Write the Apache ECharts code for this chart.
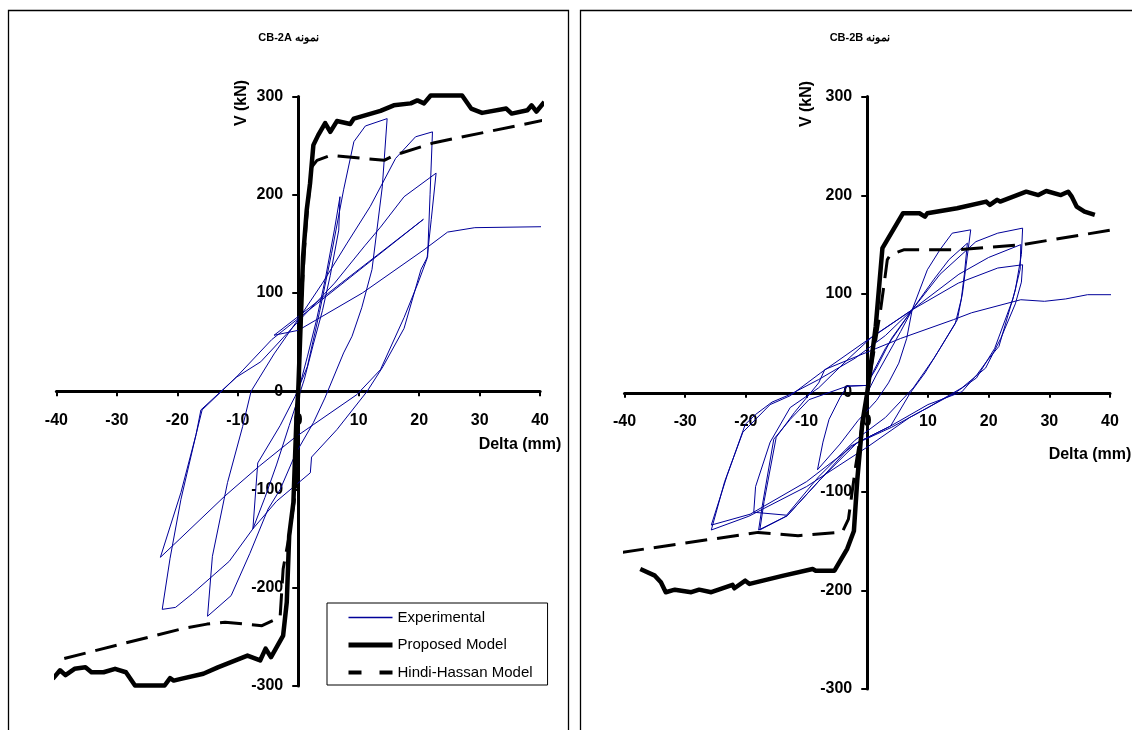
<!DOCTYPE html>
<html><head><meta charset="utf-8">
<script src="https://cdn.jsdelivr.net/npm/echarts@6/dist/echarts.min.js"></script>
<style>html,body{margin:0;padding:0;background:#fff}#c{width:1132px;height:730px}</style>
</head><body><div id="c"></div>
<script>
// ---------- data ----------
const panelTitles = ['CB-2A نمونه', 'CB-2B نمونه'];
const xAxisName = 'Delta (mm)';
const yAxisName = 'V (kN)';
const seriesNames = ['Experimental', 'Proposed Model', 'Hindi-Hassan Model'];
const xMin = -40, xMax = 40, xStep = 10;
const yMin = -300, yMax = 300, yStep = 100;

// Panel A (CB-2A)
const expA = [
 [0,0],[1.5,35],[3,72],[4.5,115],[6,165],[6.9,198],[6.7,164],[5.3,118],[4,82],[2.5,48],[1,12],[-1.5,-35],[-3.6,-75],[-5.5,-108],[-7.5,-140],[-6.7,-73],[-3,-35],[-0.5,-5],
 [1.5,25],[3.5,80],[5.5,140],[7.5,205],[9.2,254],[11.1,270],[14.7,277.5],[13.9,208],[12.2,124],[10.5,85],[8.9,56],[7.5,39],[4.4,-7],[2.5,-32],[-0.4,-63],[-3,-100],[-5,-120],[-8,-165],[-11.1,-208],[-15,-229],[-14.2,-168],[-11.7,-93],[-9.2,-36],[-7.8,0],
 [-4,38],[0.3,76],[4,110],[8,150],[11.9,188],[16.1,237],[19.4,259],[22.2,264],[21.8,200],[21.4,137],[20.3,124],[17.5,64],[14,25],[11.4,0],[6.4,-39],[2.2,-67],[2,-83],[-3.6,-112],[-7.5,-140],[-11.4,-173],[-17.5,-206],[-20.3,-220],[-22.5,-222],[-21.2,-170],[-19.4,-110],[-16.9,-44],[-15.9,-19],
 [-10.3,14],[-6.2,30],[0.3,73],[6,110],[11,148],[13.6,167],[17.5,198],[22.8,222],[22,175],[21.3,135],[19.8,110],[17.5,75],[13.6,22],[9.7,-3.4],[2.5,-34],[-0.55,-47],[-6.4,-76],[-12.2,-107],[-19.7,-151],[-22.8,-169],[-19.4,-103],[-16.9,-44],[-16.1,-19],
 [-10.3,14],[-4.4,52.5],[20.7,175],[-4,57],[0,62],[10.6,100],[20.8,144],[24.7,162],[29.2,166.5],[40.7,167.5]
];
const propA = [
 [-40.6,-292.7],[-39.4,-284],[-38.5,-289],[-37,-282.5],[-35.2,-281],[-34.2,-286],[-32.2,-286],[-30.3,-282.5],[-28.5,-286],[-27,-299.5],[-22.1,-299.5],[-21.2,-292],[-20.6,-294.5],[-19.4,-292.7],[-15.7,-287.6],[-13.3,-281],[-8.4,-269],[-6.3,-274],[-5.4,-262],[-4.5,-270.7],[-2.5,-248.7],[-1.9,-214.8],[-1.5,-147],[-0.8,-113],[-0.3,-28],
 [0,0],[0.4,69.4],[0.8,137],[1.4,184.5],[1.95,211.5],[2.5,250.5],[3.3,260.7],[4.45,273],[5.3,264],[6.4,275],[8.6,272],[9.2,277.5],[13.6,285.3],[15.8,291],[18.6,293],[19.7,296],[20.8,293],[21.9,301],[27.1,301],[28.6,287.7],[30.4,283.3],[34.4,287.7],[35.3,282.6],[37.9,286],[38.6,291],[39.4,284.7],[40.7,294.4]
];
const hhA = [
 [-38.7,-272],[-19.4,-242],[-15.1,-237],[-12.1,-235],[-6,-238.6],[-3,-230],[-2.5,-181],[-1.5,-147],[-0.4,-100],[0,0],[0.6,100],[1.3,170],[2.2,228],[3.1,235],[5.3,240],[14.2,235],[15.8,240],[22.5,253],[40.7,276]
];

// Panel B (CB-2B)
const expB = [
 [0,0],[1.5,18],[3.5,40],[5.5,62],[7.4,84],[6.5,55],[5.2,30],[3.5,10],[1.5,-8],[-1.5,-28],[-4.5,-52],[-8.2,-78],[-7.3,-50],[-6.3,-27],[-4.5,-5],[-3.3,6.7],[-0.2,7.4],
 [1.5,25],[4,55],[7.4,84],[9.9,124.5],[12,145],[14,161.6],[17.05,165],[16.2,125],[15.7,101],[14.85,74],[12,45],[9.5,20],[7.1,0],[3.85,-33.7],[-1.65,-50.5],[-7.7,-87.6],[-13.2,-124.6],[-17.9,-139],[-17.3,-114.5],[-15.4,-47],[-12.7,-27],[-9.6,-7],[-3.3,6.7],[-0.2,7.4],
 [3,45],[7.4,84],[11,115],[13.5,135],[16.5,151.5],[16,120],[15.5,95],[14.5,70],[11,35],[7.6,5],[3,-25],[-2,-48],[-8,-85],[-13.3,-124],[-18.7,-121],[-18.4,-95],[-16,-50],[-12.7,-15],[-8,5],
 [-3,35],[0.5,55],[7.4,84],[12,120],[17.9,153],[21.5,161.6],[25.6,166.7],[25.4,140],[24.4,104],[21.7,47],[19.9,33.6],[18.1,18.5],[15.6,1],[10,-12],[3.85,-33.7],[-1.65,-50.5],[-10,-90],[-19.3,-123],[-25.7,-134],[-23.1,-84],[-20.1,-32],[-18.4,-22],[-15.7,-9.5],[-12.7,-1.7],[-8,13.4],
 [-2,35],[3,58],[7.4,84],[15.1,120],[20,137],[25.3,150],[25.2,125],[24,95],[21,45],[18,15],[14.5,0],[7,-25],[0,-55],[-10,-95],[-19.5,-125],[-25.7,-139],[-23.5,-90],[-20.5,-40],[-16,-12],[-12.7,-3],[-7.7,20],
 [0.55,55.6],[7.4,84],[15,111],[21.5,126.3],[25.6,129.6],[25.4,112],[24.4,90],[22,55],[19.5,25],[15.6,5],[10,-15],[4,-35],[-2.75,-54],[-7.7,-87.6],[-13.2,-124.6],[-17.7,-139],[-17,-110],[-15,-45],[-12,-20],[-8,10],
 [-7,23.5],[5.5,55],[14.2,74],[17.2,81],[25.3,94.2],[29.2,92.6],[32.7,95],[36.3,99.3],[40.4,99.3]
];
const propB = [
 [-37.4,-178.5],[-35,-185.2],[-34,-192],[-33.2,-202],[-31.7,-199.4],[-29,-202],[-27.7,-199.4],[-25.7,-202],[-22.2,-194.6],[-21.9,-198],[-20.1,-190.3],[-19.4,-193.6],[-13.8,-185.2],[-9,-178.5],[-8.5,-180.2],[-5.4,-180.2],[-3.3,-158],[-2.2,-140],[-1.65,-88.6],[-0.8,-30],
 [0,0],[0.55,26.9],[1.4,67.3],[2.5,146.5],[5.9,181.8],[8.6,181.8],[9.5,178.4],[9.9,181.8],[14.8,186.9],[19.6,193.6],[20.2,190.2],[21.4,195.3],[21.9,193.6],[26.2,203.6],[28.2,200.2],[29.5,204.3],[31.9,200.2],[33.1,203.6],[33.7,198.6],[34.5,188.5],[35.8,183.4],[37.5,180.1]
];
const hhB = [
 [-40.4,-161.6],[-18,-141.4],[-11.4,-144.8],[-4.1,-141],[-3.1,-128],[-1.9,-74],[0,0],[2.2,84],[2.8,111],[3.3,134.6],[3.8,139.6],[6,144.7],[14.8,144.7],[25.3,149.8],[40.5,165]
];

// ---------- chart ----------
const FONT = 'Arial, "Liberation Sans", sans-serif';
const BLUE = '#000099';
const grids = [
  {left: 56.4, top: 96.5, width: 483.7, height: 589.5},
  {left: 624.5, top: 96.5, width: 485.5, height: 592.5}
];
const chart = echarts.init(document.getElementById('c'), null, {renderer: 'canvas'});

function xAx(gi) {
  return {
    gridIndex: gi, type: 'value', min: xMin, max: xMax, interval: xStep,
    position: 'bottom', offset: -grids[gi].height / 2,
    axisLine: {onZero: false, lineStyle: {color: '#000', width: 3}},
    axisTick: {show: true, length: 5, lineStyle: {color: '#000', width: 2}},
    axisLabel: {color: '#000', fontSize: 16, fontWeight: 'bold', fontFamily: FONT, margin: 21},
    splitLine: {show: false}
  };
}
function yAx(gi) {
  return {
    gridIndex: gi, type: 'value', min: yMin, max: yMax, interval: yStep,
    position: 'left', offset: -grids[gi].width / 2,
    axisLine: {show: true, onZero: false, lineStyle: {color: '#000', width: 3}},
    axisTick: {show: true, length: 6, lineStyle: {color: '#000', width: 2}},
    axisLabel: {color: '#000', fontSize: 16, fontWeight: 'bold', fontFamily: FONT, margin: 15},
    splitLine: {show: false}
  };
}
function mk(gi, name, data) {
  const base = {name: name, type: 'line', xAxisIndex: gi, yAxisIndex: gi, data: data,
    symbol: 'none', showSymbol: false, clip: false, smooth: false, animation: false};
  if (name === seriesNames[0]) {
    base.lineStyle = {color: BLUE, width: 1}; base.itemStyle = {color: BLUE}; base.z = 2;
  } else if (name === seriesNames[1]) {
    base.lineStyle = {color: '#000', width: 4.5, join: 'round'}; base.itemStyle = {color: '#000'}; base.z = 3;
  } else {
    base.lineStyle = {color: '#000', width: 3, type: [22, 10]}; base.itemStyle = {color: '#000'}; base.z = 4;
  }
  return base;
}

const option = {
  backgroundColor: '#fff',
  animation: false,
  grid: grids,
  xAxis: [xAx(0), xAx(1)],
  yAxis: [yAx(0), yAx(1)],
  legend: {
    data: [
      {name: seriesNames[0], lineStyle: {width: 1.3, color: BLUE}},
      {name: seriesNames[1], lineStyle: {width: 5, color: '#000'}},
      {name: seriesNames[2], lineStyle: {width: 4, color: '#000', type: [13, 18]}}
    ],
    orient: 'vertical', left: 327, top: 603,
    padding: [7, 15, 5, 19], itemGap: 12.5, itemWidth: 44, itemHeight: 14,
    borderColor: '#000', borderWidth: 1, backgroundColor: '#fff', borderRadius: 0,
    itemStyle: {opacity: 0},
    textStyle: {color: '#000', fontSize: 15, fontFamily: FONT},
    selectedMode: false, z: 10
  },
  graphic: [
    {type: 'rect', shape: {x: 8.5, y: 10.5, width: 560, height: 740}, style: {fill: 'none', stroke: '#000', lineWidth: 1.3}, silent: true, z: -1},
    {type: 'rect', shape: {x: 580.5, y: 10.5, width: 570, height: 740}, style: {fill: 'none', stroke: '#000', lineWidth: 1.3}, silent: true, z: -1},
    {type: 'text', x: 288.6, y: 37.5, style: {text: panelTitles[0], font: 'bold 11px ' + FONT, fill: '#000', textAlign: 'center', textVerticalAlign: 'middle'}},
    {type: 'text', x: 860, y: 37.5, style: {text: panelTitles[1], font: 'bold 11px ' + FONT, fill: '#000', textAlign: 'center', textVerticalAlign: 'middle'}},
    {type: 'text', x: 242, y: 103, rotation: Math.PI / 2, style: {text: yAxisName, font: 'bold 16px ' + FONT, fill: '#000', textAlign: 'center', textVerticalAlign: 'middle'}},
    {type: 'text', x: 806.6, y: 104, rotation: Math.PI / 2, style: {text: yAxisName, font: 'bold 16px ' + FONT, fill: '#000', textAlign: 'center', textVerticalAlign: 'middle'}},
    {type: 'text', x: 520, y: 445, style: {text: xAxisName, font: 'bold 16px ' + FONT, fill: '#000', textAlign: 'center', textVerticalAlign: 'middle'}},
    {type: 'text', x: 1090, y: 455, style: {text: xAxisName, font: 'bold 16px ' + FONT, fill: '#000', textAlign: 'center', textVerticalAlign: 'middle'}}
  ],
  series: [
    mk(0, seriesNames[0], expA), mk(0, seriesNames[1], propA), mk(0, seriesNames[2], hhA),
    mk(1, seriesNames[0], expB), mk(1, seriesNames[1], propB), mk(1, seriesNames[2], hhB)
  ]
};
chart.setOption(option);
</script></body></html>
